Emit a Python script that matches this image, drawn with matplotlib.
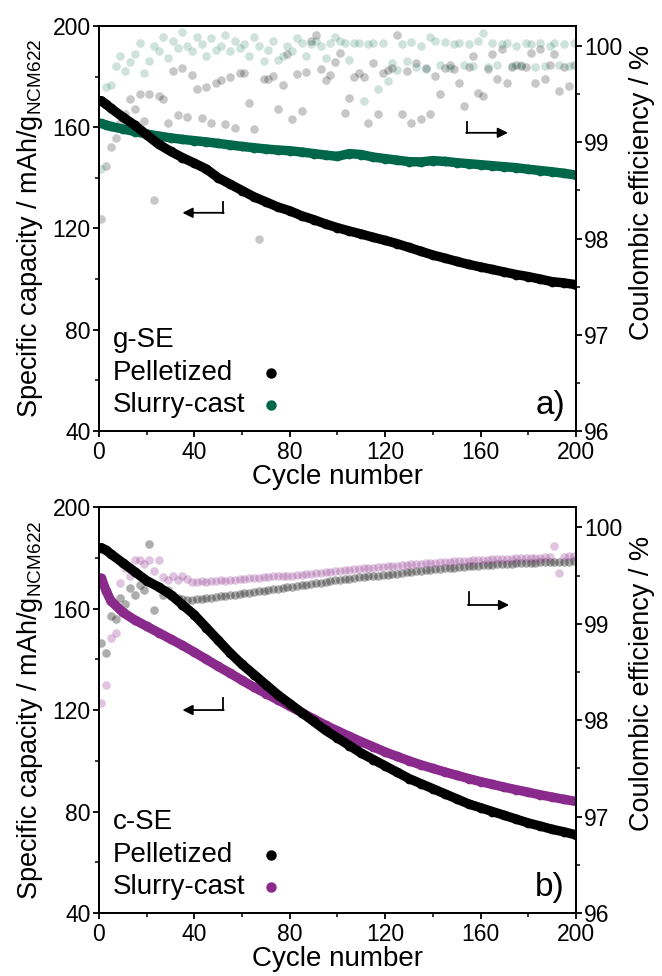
import matplotlib
matplotlib.use("Agg")
import matplotlib.pyplot as plt
from matplotlib.ticker import MultipleLocator
from matplotlib.lines import Line2D

plt.rcParams['font.family'] = ['Liberation Sans', 'DejaVu Sans']
plt.rcParams['mathtext.default'] = 'regular'

GREEN = '#00674a'
PURPLE = '#8a2a8c'
BLACK = '#000000'

# capacity, read every 5 cycles
cap_cycles = [1, 3] + list(range(5, 201, 5))

cap_a_pel = [170.5, 169.0, 167.5, 164.0, 160.8, 157.0, 153.3, 150.5, 148.0, 145.8,
             143.5, 140.0, 137.5, 135.0, 132.5, 130.5, 128.5, 127.0, 125.0, 123.5,
             121.8, 120.3, 119.0, 117.8, 116.5, 115.3, 114.0, 112.5, 111.0, 109.5,
             108.3, 107.0, 105.8, 104.8, 103.8, 102.8, 101.8, 101.0, 100.0, 99.0,
             98.5, 97.8]
cap_a_slu = [161.5, 160.9, 160.3, 159.3, 158.3, 157.3, 156.5, 155.8, 155.2, 154.7,
             154.2, 153.6, 153.0, 152.4, 151.9, 151.4, 151.0, 150.7, 150.2, 149.6,
             149.0, 148.5, 149.6, 149.2, 148.2, 147.6, 147.0, 146.4, 146.3, 146.8,
             146.5, 146.0, 145.6, 145.2, 144.8, 144.4, 144.0, 143.4, 142.9, 142.4,
             141.8, 141.1]
cap_b_pel = [184.0, 183.0, 181.5, 178.0, 174.5, 171.0, 168.5, 165.5, 161.5, 157.5,
             152.5, 147.5, 142.5, 138.0, 134.0, 130.0, 126.0, 122.5, 119.0, 115.5,
             112.0, 109.0, 106.0, 103.0, 100.5, 98.0, 95.5, 93.0, 91.0, 89.0,
             87.0, 85.0, 83.0, 81.5, 80.0, 78.5, 77.0, 75.5, 74.3, 73.0,
             72.0, 70.8]
cap_b_slu = [172.0, 167.0, 163.0, 158.5, 155.5, 153.0, 150.5, 148.0, 145.5, 142.8,
             140.0, 137.2, 134.5, 131.7, 129.0, 126.5, 124.0, 121.5, 119.0, 116.5,
             114.0, 111.8, 109.6, 107.5, 105.5, 103.5, 101.7, 100.0, 98.4, 97.0,
             95.6, 94.3, 93.0, 91.8, 90.7, 89.6, 88.6, 87.6, 86.6, 85.7,
             84.8, 84.0]

# coulombic efficiency, read every 2 cycles
ce_cycles = list(range(1, 200, 2))

ce_a_pel = [98.2, 98.75, 98.95, 99.05, 99.2, 99.3, 99.45, 99.35, 99.5, 99.22,
            99.5, 98.4, 99.48, 99.45, 99.2, 99.74, 99.28, 99.77, 99.26, 99.7,
            99.55, 99.25, 99.58, 99.2, 99.62, 99.65, 99.19, 99.68, 99.15, 99.72,
            99.72, 99.41, 99.14, 98.0, 99.66, 99.66, 99.69, 99.35, 99.6, 99.92,
            99.24, 99.71, 99.33, 99.73, 100.05, 100.12, 99.76, 99.65, 99.7, 99.84,
            99.93, 99.31, 99.46, 99.68, 99.72, 99.68, 99.2, 99.83, 99.3, 99.72,
            99.75, 99.77, 100.12, 99.3, 99.74, 99.2, 99.82, 99.24, 99.77, 99.3,
            99.69, 99.5, 99.77, 99.8, 99.76, 99.62, 99.38, 99.78, 99.9, 99.51,
            99.48, 99.76, 99.92, 99.66, 99.97, 99.62, 99.78, 99.8, 99.79, 99.78,
            99.93, 99.62, 99.97, 99.66, 99.8, 99.92, 99.53, 99.78, 99.59, 99.8]
ce_a_slu = [98.72, 99.58, 99.6, 99.79, 99.9, 99.74, 99.84, 99.92, 100.03, 99.72,
            99.85, 100.0, 99.95, 100.1, 99.88, 100.05, 99.98, 100.15, 100.0, 99.95,
            100.1, 100.02, 99.9, 100.08, 99.96, 100.0, 100.12, 99.95, 100.05, 99.98,
            100.02, 99.9, 100.1, 100.0, 99.85, 99.96, 100.05, 99.86, 99.9, 100.0,
            99.95, 100.08, 100.03, 99.9, 100.02, 100.05, 100.0, 99.88, 100.03, 100.1,
            100.05, 100.03, 99.86, 100.03, 100.03, 99.43, 100.02, 100.03, 99.55, 100.03,
            99.64, 99.82, 99.75, 100.02, 99.85, 100.04, 99.78, 100.0, 99.76, 100.1,
            100.05, 99.8, 100.04, 99.77, 100.02, 100.03, 99.8, 100.02, 99.79, 100.05,
            100.14, 99.78, 100.03, 99.8, 100.02, 100.03, 99.79, 100.0, 99.8, 100.03,
            100.02, 99.78, 100.03, 99.79, 100.0, 100.03, 99.8, 100.02, 99.79, 100.03]
ce_b_pel = [98.8, 98.7, 99.08, 99.05, 99.27, 99.2, 99.37, 99.3, 99.4, 99.35,
            99.83, 99.14, 99.38, 99.3, 99.35, 99.3, 99.27, 99.26, 99.25, 99.25,
            99.26, 99.26, 99.27, 99.27, 99.28, 99.29, 99.29, 99.3, 99.3, 99.31,
            99.32, 99.32, 99.33, 99.34, 99.34, 99.35, 99.36, 99.36, 99.37, 99.38,
            99.38, 99.39, 99.4, 99.4, 99.41, 99.42, 99.42, 99.43, 99.44, 99.45,
            99.45, 99.46, 99.46, 99.47, 99.48, 99.48, 99.49, 99.5, 99.5, 99.51,
            99.51, 99.52, 99.52, 99.53, 99.54, 99.54, 99.55, 99.55, 99.56, 99.56,
            99.57, 99.57, 99.58, 99.58, 99.58, 99.59, 99.59, 99.6, 99.6, 99.6,
            99.61, 99.61, 99.61, 99.62, 99.62, 99.62, 99.62, 99.63, 99.63, 99.63,
            99.63, 99.63, 99.64, 99.64, 99.64, 99.64, 99.64, 99.64, 99.64, 99.65]
ce_b_slu = [98.18, 98.36, 98.85, 98.9, 99.42, 99.58, 99.5, 99.66, 99.66, 99.62,
            99.66, 99.55, 99.66, 99.48, 99.45, 99.5, 99.45, 99.5, 99.46, 99.43,
            99.43, 99.44, 99.43, 99.44, 99.44, 99.45, 99.44, 99.45, 99.45, 99.46,
            99.46, 99.47, 99.47, 99.47, 99.48, 99.48, 99.49, 99.49, 99.5, 99.5,
            99.5, 99.51, 99.51, 99.52, 99.52, 99.53, 99.53, 99.54, 99.54, 99.55,
            99.55, 99.56, 99.56, 99.57, 99.57, 99.58, 99.58, 99.58, 99.59, 99.59,
            99.6, 99.6, 99.6, 99.61, 99.61, 99.62, 99.62, 99.62, 99.63, 99.63,
            99.63, 99.64, 99.64, 99.64, 99.65, 99.65, 99.65, 99.65, 99.66, 99.66,
            99.66, 99.66, 99.67, 99.67, 99.67, 99.67, 99.67, 99.68, 99.68, 99.68,
            99.68, 99.68, 99.68, 99.69, 99.69, 99.81, 99.53, 99.69, 99.7, 99.7]

panels = [
    dict(rect=[0.1495, 0.5584, 0.7205, 0.415], pel=cap_a_pel, slu=cap_a_slu,
         ce_pel=ce_a_pel, ce_slu=ce_a_slu, color=GREEN, name='g-SE', tag='a)',
         ce_alpha=0.22,
         larrow=(52, 35, 126.2, 130.5), rarrow=(154.3, 171.5, 157.8, 162.1), rly=0.59),
    dict(rect=[0.1495, 0.0645, 0.7205, 0.416], pel=cap_b_pel, slu=cap_b_slu,
         ce_pel=ce_b_pel, ce_slu=ce_b_slu, color=PURPLE, name='c-SE', tag='b)',
         ce_alpha=0.32,
         larrow=(52, 35, 120.0, 124.7), rarrow=(155, 172, 161.4, 166.5), rly=0.565),
]

fig = plt.figure(figsize=(6.62, 9.76), dpi=100)

for p in panels:
    ax = fig.add_axes(p['rect'])
    ax2 = ax.twinx()
    ax.set_zorder(ax2.get_zorder() + 1)
    ax.patch.set_visible(False)

    # coulombic efficiency (right axis)
    ax2.plot(ce_cycles, p['ce_pel'], 'o', color=BLACK, alpha=p['ce_alpha'], ms=6.2, mew=0)
    ax2.plot(ce_cycles, p['ce_slu'], 'o', color=p['color'], alpha=p['ce_alpha'] * 0.85,
             ms=6.2, mew=0)

    # capacity (left axis)
    ax.plot(cap_cycles, p['slu'], '-o', color=p['color'], lw=6.8, ms=7, mew=0,
            solid_capstyle='round', solid_joinstyle='round')
    ax.plot(cap_cycles, p['pel'], '-o', color=BLACK, lw=6.8, ms=7, mew=0,
            solid_capstyle='round', solid_joinstyle='round')

    ax.set_xlim(0, 200)
    ax.set_ylim(40, 200)
    ax2.set_ylim(96, 100.21)
    ax.xaxis.set_major_locator(MultipleLocator(40))
    ax.xaxis.set_minor_locator(MultipleLocator(20))
    ax.yaxis.set_major_locator(MultipleLocator(40))
    ax.yaxis.set_minor_locator(MultipleLocator(20))
    ax2.yaxis.set_major_locator(MultipleLocator(1))
    ax2.yaxis.set_minor_locator(MultipleLocator(0.5))

    for a in (ax, ax2):
        for s in a.spines.values():
            s.set_linewidth(1.3)
        a.tick_params(which='major', direction='out', length=4.5, width=1.3,
                      labelsize=16.5, pad=1.5)
        a.tick_params(which='minor', direction='out', length=2.8, width=1.1)
    ax.tick_params(which='both', top=False, right=False)
    ax.tick_params(axis='x', which='major', pad=2.5)
    ax2.tick_params(which='both', left=False, right=True)

    ax.set_xlabel('Cycle number', fontsize=20, labelpad=0)
    ax.set_ylabel('Specific capacity / mAh/g$_{NCM622}$', fontsize=19.5)
    ax.yaxis.set_label_coords(-0.113, 0.5)
    ax2.set_ylabel('Coulombic efficiency / %', fontsize=19.5, rotation=90)
    ax2.yaxis.set_label_coords(1.112, p['rly'])

    # direction arrows
    x0, x1, y0, y1 = p['larrow']
    ax.plot([x0, x0], [y0, y1], color=BLACK, lw=1.3)
    ax.annotate('', xy=(x1, y0), xytext=(x0 + 0.3, y0),
                arrowprops=dict(arrowstyle='-|>', color=BLACK, lw=1.3,
                                mutation_scale=15, shrinkA=0, shrinkB=0))
    x0, x1, y0, y1 = p['rarrow']
    ax.plot([x0, x0], [y0, y1], color=BLACK, lw=1.3)
    ax.annotate('', xy=(x1, y0), xytext=(x0 - 0.3, y0),
                arrowprops=dict(arrowstyle='-|>', color=BLACK, lw=1.3,
                                mutation_scale=15, shrinkA=0, shrinkB=0))

    # legend block
    ax.text(0.029, 0.225, p['name'], transform=ax.transAxes, fontsize=20,
            ha='left', va='center')
    ax.text(0.029, 0.143, 'Pelletized', transform=ax.transAxes, fontsize=20,
            ha='left', va='center')
    ax.text(0.029, 0.064, 'Slurry-cast', transform=ax.transAxes, fontsize=20,
            ha='left', va='center')
    ax.add_line(Line2D([0.36], [0.143], marker='o', ms=7.5, color=BLACK, mew=0,
                       transform=ax.transAxes))
    ax.add_line(Line2D([0.36], [0.064], marker='o', ms=7.5, color=p['color'], mew=0,
                       transform=ax.transAxes))

    ax.text(0.977, 0.025, p['tag'], transform=ax.transAxes, fontsize=24,
            ha='right', va='bottom')

fig.savefig('out.png', dpi=100)
